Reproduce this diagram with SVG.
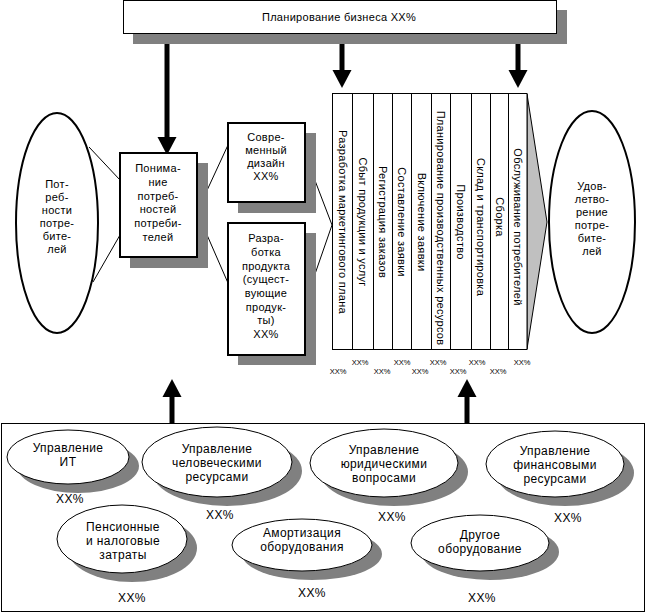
<svg xmlns="http://www.w3.org/2000/svg" width="647" height="614" viewBox="0 0 647 614">
<style>
text{font-family:"Liberation Sans",Arial,sans-serif;font-size:11px;fill:#000;text-anchor:middle;letter-spacing:0.3px}
.b text{font-size:12px;letter-spacing:0.4px}
.sh{fill:#808080;stroke:none}
.box{fill:#fff;stroke:#000;stroke-width:2}
.thin{fill:#fff;stroke:#000;stroke-width:1}
.ln{stroke:#000;stroke-width:1;fill:none}
.shaft{stroke:#000;stroke-width:5;fill:none}
.small{font-size:7.5px;letter-spacing:0}
</style>
<rect width="647" height="614" fill="#fff"/>

<g id="top">
<rect class="sh" x="133" y="10" width="434" height="34"/>
<rect class="thin" x="123.5" y="0.5" width="433" height="33" stroke-width="1.5"/>
<text x="339" y="21">Планирование бизнеса XX%</text>
</g>

<g id="connectors">
<line class="shaft" x1="167" y1="44" x2="167" y2="138"/>
<polygon points="157.5,137 176.5,137 167,155"/>
<line class="shaft" x1="342" y1="44" x2="342" y2="71"/>
<polygon points="332.5,70 351.5,70 342,88"/>
<line class="shaft" x1="518" y1="44" x2="518" y2="71"/>
<polygon points="508.5,70 527.5,70 518,88"/>
<line class="shaft" x1="172" y1="423" x2="172" y2="396"/>
<polygon points="162.5,397 181.5,397 172,379"/>
<line class="shaft" x1="467" y1="423" x2="467" y2="396"/>
<polygon points="457.5,397 476.5,397 467,379"/>
<line class="ln" x1="89" y1="147" x2="120" y2="180"/>
<line class="ln" x1="93" y1="282" x2="120" y2="235"/>
<line class="ln" x1="197" y1="212" x2="228" y2="145"/>
<line class="ln" x1="197" y1="212" x2="228" y2="283"/>
<line class="ln" x1="306" y1="157" x2="332" y2="225"/>
<line class="ln" x1="306" y1="300" x2="332" y2="225"/>
</g>

<g id="needs">
<ellipse cx="57" cy="223" rx="41" ry="110" fill="#fff" stroke="#000" stroke-width="2"/>
<text x="57" y="188">Пот-</text>
<text x="57" y="201">реб-</text>
<text x="57" y="214">ности</text>
<text x="57" y="227">потре-</text>
<text x="57" y="240">бите-</text>
<text x="57" y="253">лей</text>
</g>

<g id="understanding">
<rect class="sh" x="130" y="163" width="78" height="105"/>
<rect class="box" x="120" y="153" width="77" height="104"/>
<text x="158" y="172">Понима-</text>
<text x="158" y="186">ние</text>
<text x="158" y="200">потреб-</text>
<text x="158" y="213">ностей</text>
<text x="158" y="227">потреби-</text>
<text x="158" y="241">телей</text>
</g>

<g id="design">
<rect class="sh" x="238" y="133" width="78" height="80"/>
<rect class="box" x="228" y="123" width="77" height="79"/>
<text x="266" y="141">Совре-</text>
<text x="266" y="154">менный</text>
<text x="266" y="167">дизайн</text>
<text x="266" y="180">XX%</text>
</g>

<g id="product">
<rect class="sh" x="238" y="233" width="78" height="132"/>
<rect class="box" x="228" y="223" width="77" height="132"/>
<text x="266" y="242">Разра-</text>
<text x="266" y="256">ботка</text>
<text x="266" y="270">продукта</text>
<text x="266" y="283">(сущест-</text>
<text x="266" y="297">вующие</text>
<text x="266" y="311">продук-</text>
<text x="266" y="324">ты)</text>
<text x="266" y="338">XX%</text>
</g>

<g id="chain">
<polygon points="527,94 547,222 527,349" fill="#c0c0c0" stroke="#000" stroke-width="1"/>
<rect x="332.5" y="93.5" width="194.5" height="256" fill="#fff" stroke="#000" stroke-width="1"/>
<g class="ln">
<line x1="352.5" y1="93" x2="352.5" y2="350"/>
<line x1="373.5" y1="93" x2="373.5" y2="350"/>
<line x1="392.5" y1="93" x2="392.5" y2="350"/>
<line x1="411.5" y1="93" x2="411.5" y2="350"/>
<line x1="431.5" y1="93" x2="431.5" y2="350"/>
<line x1="450.5" y1="93" x2="450.5" y2="350"/>
<line x1="471.5" y1="93" x2="471.5" y2="350"/>
<line x1="490.5" y1="93" x2="490.5" y2="350"/>
<line x1="508.5" y1="93" x2="508.5" y2="350"/>
</g>
<text transform="translate(342.5,222) rotate(90)" y="4">Разработка маркетингового плана</text>
<text transform="translate(363,222) rotate(90)" y="4">Сбыт продукции и услуг</text>
<text transform="translate(383,222) rotate(90)" y="4">Регистрация заказов</text>
<text transform="translate(402,222) rotate(90)" y="4">Составление заявки</text>
<text transform="translate(421.5,222) rotate(90)" y="4">Включение заявки</text>
<text transform="translate(441,228) rotate(90)" y="4">Планирование производственных ресурсов</text>
<text transform="translate(461,222) rotate(90)" y="4">Производство</text>
<text transform="translate(481,227) rotate(90)" y="4">Склад и транспортировка</text>
<text transform="translate(499.5,217) rotate(90)" y="4">Сборка</text>
<text transform="translate(518,227) rotate(90)" y="4">Обслуживание потребителей</text>
<text class="small" x="360" y="365">XX%</text>
<text class="small" x="402" y="365">XX%</text>
<text class="small" x="438" y="365">XX%</text>
<text class="small" x="477" y="365">XX%</text>
<text class="small" x="522" y="365">XX%</text>
<text class="small" x="338" y="374">XX%</text>
<text class="small" x="382" y="374">XX%</text>
<text class="small" x="420" y="374">XX%</text>
<text class="small" x="458" y="374">XX%</text>
<text class="small" x="498" y="374">XX%</text>
</g>

<g id="satisfaction">
<ellipse cx="592" cy="222" rx="43" ry="111" fill="#fff" stroke="#000" stroke-width="2"/>
<text x="592" y="190">Удов-</text>
<text x="592" y="203">летво-</text>
<text x="592" y="216">рение</text>
<text x="592" y="229">потре-</text>
<text x="592" y="242">бите-</text>
<text x="592" y="255">лей</text>
</g>

<g id="support">
<rect x="1.5" y="423.5" width="643" height="188" fill="#fff" stroke="#000" stroke-width="1"/>
</g>

<g id="it" class="b">
<ellipse class="sh" cx="78" cy="466" rx="61" ry="27"/>
<ellipse class="thin" cx="68" cy="457" rx="61" ry="27"/>
<text x="68" y="452">Управление</text>
<text x="68" y="466">ИТ</text>
<text x="70" y="503">XX%</text>
</g>

<g id="hr" class="b">
<ellipse class="sh" cx="227" cy="471" rx="75" ry="35"/>
<ellipse class="thin" cx="217" cy="462" rx="75" ry="35"/>
<text x="217" y="453">Управление</text>
<text x="217" y="467">человеческими</text>
<text x="217" y="481">ресурсами</text>
<text x="220" y="519">XX%</text>
</g>

<g id="legal" class="b">
<ellipse class="sh" cx="394" cy="472" rx="74" ry="34"/>
<ellipse class="thin" cx="384" cy="463" rx="74" ry="34"/>
<text x="384" y="454">Управление</text>
<text x="384" y="468">юридическими</text>
<text x="384" y="482">вопросами</text>
<text x="392" y="521">XX%</text>
</g>

<g id="finance" class="b">
<ellipse class="sh" cx="565" cy="473" rx="69" ry="33"/>
<ellipse class="thin" cx="555" cy="464" rx="69" ry="33"/>
<text x="555" y="455">Управление</text>
<text x="555" y="469">финансовыми</text>
<text x="555" y="483">ресурсами</text>
<text x="568" y="522">XX%</text>
</g>

<g id="pension" class="b">
<ellipse class="sh" cx="132" cy="548" rx="65" ry="34"/>
<ellipse class="thin" cx="122" cy="539" rx="65" ry="34"/>
<text x="123" y="531">Пенсионные</text>
<text x="123" y="545">и налоговые</text>
<text x="123" y="559">затраты</text>
<text x="132" y="602">XX%</text>
</g>

<g id="depreciation" class="b">
<ellipse class="sh" cx="312" cy="554" rx="70" ry="26"/>
<ellipse class="thin" cx="302" cy="545" rx="70" ry="26"/>
<text x="302" y="537">Амортизация</text>
<text x="302" y="551">оборудования</text>
<text x="312" y="597">XX%</text>
</g>

<g id="other" class="b">
<ellipse class="sh" cx="490" cy="552" rx="69" ry="28"/>
<ellipse class="thin" cx="480" cy="543" rx="69" ry="28"/>
<text x="480" y="539">Другое</text>
<text x="480" y="553">оборудование</text>
<text x="482" y="602">XX%</text>
</g>
</svg>
